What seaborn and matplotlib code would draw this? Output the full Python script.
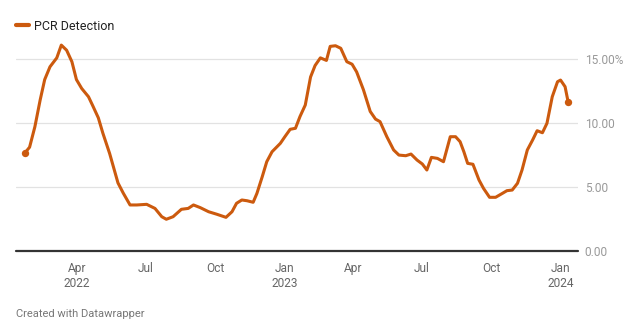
import matplotlib
matplotlib.use("Agg")
import matplotlib.pyplot as plt
import seaborn as sns
import pandas as pd

dates = [
    "2022-01-22", "2022-01-28", "2022-02-04", "2022-02-11", "2022-02-17", "2022-02-24",
    "2022-03-05", "2022-03-11", "2022-03-18", "2022-03-25", "2022-03-31", "2022-04-07",
    "2022-04-16", "2022-04-22", "2022-04-29", "2022-05-05", "2022-05-14", "2022-05-25",
    "2022-06-01", "2022-06-10", "2022-06-19", "2022-07-02", "2022-07-13", "2022-07-22",
    "2022-07-28", "2022-08-06", "2022-08-17", "2022-08-26", "2022-09-02", "2022-09-11",
    "2022-09-22", "2022-10-03", "2022-10-15", "2022-10-23", "2022-10-29", "2022-11-05",
    "2022-11-12", "2022-11-20", "2022-11-25", "2022-12-02", "2022-12-08", "2022-12-15",
    "2022-12-26", "2023-01-01", "2023-01-08", "2023-01-15", "2023-01-21", "2023-01-28",
    "2023-02-04", "2023-02-10", "2023-02-17", "2023-02-25", "2023-03-02", "2023-03-09",
    "2023-03-16", "2023-03-24", "2023-03-31", "2023-04-06", "2023-04-15", "2023-04-24",
    "2023-05-01", "2023-05-07", "2023-05-16", "2023-05-25", "2023-06-01", "2023-06-10",
    "2023-06-17", "2023-06-25", "2023-07-02", "2023-07-08", "2023-07-14", "2023-07-22",
    "2023-07-30", "2023-08-08", "2023-08-15", "2023-08-21", "2023-08-26", "2023-08-31",
    "2023-09-07", "2023-09-15", "2023-09-21", "2023-09-29", "2023-10-07", "2023-10-16",
    "2023-10-22", "2023-10-29", "2023-11-05", "2023-11-11", "2023-11-18", "2023-11-25",
    "2023-12-01", "2023-12-08", "2023-12-14", "2023-12-21", "2023-12-28", "2024-01-01",
    "2024-01-07", "2024-01-11",
]
pcr_detection = [
    7.66, 8.1, 9.7, 11.8, 13.4, 14.4,
    15.1, 16.1, 15.7, 14.8, 13.4, 12.7,
    12.05, 11.3, 10.4, 9.2, 7.6, 5.3,
    4.5, 3.57, 3.57, 3.62, 3.3, 2.65,
    2.45, 2.65, 3.23, 3.3, 3.57, 3.36,
    3.04, 2.84, 2.6, 3.04, 3.7, 3.96,
    3.9, 3.78, 4.48, 5.78, 6.96, 7.74,
    8.4, 8.92, 9.5, 9.58, 10.5, 11.4,
    13.6, 14.5, 15.1, 14.9, 16.0, 16.05,
    15.85, 14.8, 14.6, 14.0, 12.6, 10.9,
    10.3, 10.1, 8.92, 7.88, 7.48, 7.43,
    7.56, 7.09, 6.78, 6.31, 7.3, 7.22,
    6.96, 8.92, 8.92, 8.53, 7.74, 6.83,
    6.76, 5.53, 4.87, 4.17, 4.17, 4.48,
    4.69, 4.74, 5.27, 6.31, 7.88, 8.66,
    9.39, 9.23, 9.97, 12.05, 13.23, 13.36,
    12.84, 11.66,
]
series_name = "PCR Detection"
tick_dates = ["2022-04-01", "2022-07-01", "2022-10-01", "2023-01-01",
              "2023-04-01", "2023-07-01", "2023-10-01", "2024-01-01"]
tick_labels = ["Apr\n2022", "Jul", "Oct", "Jan\n2023", "Apr", "Jul", "Oct", "Jan\n2024"]
y_ticks = [0, 5, 10, 15]
y_labels = ["0.00", "5.00", "10.00", "15.00%"]

df = pd.DataFrame({"date": pd.to_datetime(dates), "value": pcr_detection})

sns.set_style("white")
plt.rcParams["font.family"] = ["Roboto", "DejaVu Sans"]

color = "#cc5a0e"
fig = plt.figure(figsize=(6.4, 3.35), dpi=100)
ax = fig.add_axes([0.025, 0.2522, 0.878, 0.6284])

sns.lineplot(data=df, x="date", y="value", ax=ax, color=color, linewidth=2.2,
             solid_joinstyle="round", solid_capstyle="round", label=series_name)
ends = df.iloc[[0, -1]]
ax.scatter(ends["date"], ends["value"], s=28, color=color, zorder=5, linewidths=0)

ax.set_ylim(0, 16.5)
ax.set_xlim(pd.Timestamp("2022-01-10"), pd.Timestamp("2024-01-24"))

for v in y_ticks[1:]:
    ax.axhline(v, color="#e2e2e2", linewidth=0.9, zorder=0)
ax.axhline(0, color="#333333", linewidth=1.6, zorder=3, clip_on=False)

ax.yaxis.tick_right()
ax.set_yticks(y_ticks)
ax.set_yticklabels(y_labels)
ax.tick_params(axis="y", length=0, pad=5, labelsize=8.6, labelcolor="#999999")

ax.set_xticks(pd.to_datetime(tick_dates))
ax.set_xticklabels(tick_labels)
ax.tick_params(axis="x", length=0, pad=8, labelsize=8.6, labelcolor="#666666")
for t in ax.get_xticklabels():
    t.set_linespacing(1.25)

for s in ax.spines.values():
    s.set_visible(False)
ax.set_xlabel("")
ax.set_ylabel("")

leg = ax.legend(loc="center left", bbox_to_anchor=(0.0, 1.065), frameon=False,
                handlelength=1.0, handletextpad=0.4, fontsize=9,
                borderaxespad=0, borderpad=0)
for line in leg.get_lines():
    line.set_linewidth(3)
for t in leg.get_texts():
    t.set_color("#222222")

fig.text(0.025, 0.055, "Created with Datawrapper", fontsize=8, color="#777777")

fig.savefig("out.png", dpi=100)
